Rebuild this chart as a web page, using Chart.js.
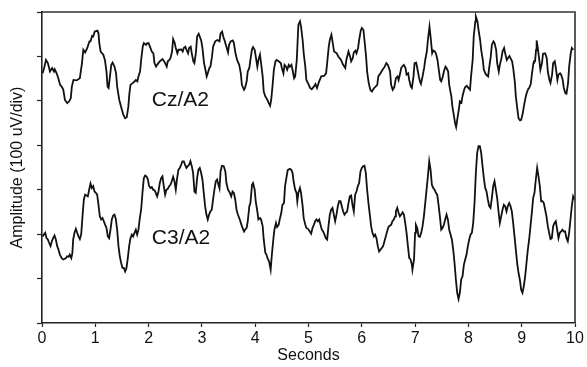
<!DOCTYPE html>
<html>
<head>
<meta charset="utf-8">
<script src="https://cdn.jsdelivr.net/npm/chart.js@4.4.1/dist/chart.umd.min.js"></script>
<style>
  html, body { margin: 0; padding: 0; background: #fff; }
  #wrap { width: 587px; height: 367px; }
</style>
</head>
<body>
<div id="wrap"><canvas id="eegChart" width="587" height="367"></canvas></div>
<script>
// time (s), amplitude (uV on the stacked 0..700 scale, 100 uV per division)
const czTrace = [
  [0.01,562],[0.04,574],[0.075,592],[0.11,585],[0.15,566],[0.19,574],[0.225,566],[0.24,571],[0.275,562],[0.306,551],
  [0.34,536],[0.375,531],[0.40,525],[0.43,502],[0.475,495],[0.51,499],[0.54,506],[0.56,532],[0.59,547],[0.65,546],
  [0.71,551],[0.75,585],[0.775,615],[0.81,609],[0.85,619],[0.89,634],[0.91,634],[0.94,646],[0.96,645],[0.99,656],
  [1.04,658],[1.06,652],[1.075,630],[1.10,611],[1.15,604],[1.18,592],[1.21,566],[1.23,532],[1.25,529],[1.275,555],
  [1.30,581],[1.325,586],[1.36,577],[1.39,562],[1.41,532],[1.45,502],[1.49,484],[1.525,469],[1.56,461],[1.59,463],
  [1.62,487],[1.64,517],[1.66,536],[1.70,540],[1.74,544],[1.76,547],[1.79,544],[1.81,555],[1.84,566],[1.86,592],
  [1.89,622],[1.91,630],[1.95,626],[1.975,630],[2.00,630],[2.025,622],[2.06,611],[2.09,607],[2.11,585],[2.14,577],
  [2.16,581],[2.19,586],[2.21,589],[2.24,592],[2.26,594],[2.29,589],[2.31,585],[2.34,577],[2.36,589],[2.39,592],
  [2.41,596],[2.44,611],[2.46,639],[2.49,630],[2.51,619],[2.54,607],[2.56,615],[2.59,615],[2.61,616],[2.64,611],
  [2.66,619],[2.69,622],[2.71,615],[2.74,607],[2.76,619],[2.79,622],[2.81,607],[2.84,589],[2.86,585],[2.89,611],
  [2.91,645],[2.94,651],[2.96,645],[2.99,634],[3.01,619],[3.04,585],[3.06,574],[3.09,555],[3.11,562],[3.14,574],
  [3.16,577],[3.19,600],[3.21,622],[3.25,634],[3.29,637],[3.33,634],[3.35,652],[3.38,656],[3.40,645],[3.43,634],
  [3.46,622],[3.49,609],[3.51,626],[3.54,634],[3.58,636],[3.60,630],[3.63,607],[3.66,592],[3.70,581],[3.73,562],
  [3.75,536],[3.79,525],[3.81,529],[3.84,544],[3.86,566],[3.89,574],[3.91,592],[3.94,616],[3.96,621],[3.99,615],
  [4.01,600],[4.04,577],[4.06,592],[4.09,604],[4.11,585],[4.14,555],[4.16,521],[4.19,510],[4.23,502],[4.25,496],
  [4.28,489],[4.30,502],[4.33,540],[4.35,570],[4.38,589],[4.40,592],[4.44,589],[4.48,585],[4.50,574],[4.53,562],
  [4.55,581],[4.58,577],[4.60,570],[4.63,581],[4.65,577],[4.68,581],[4.70,570],[4.73,551],[4.75,555],[4.78,592],
  [4.80,645],[4.81,671],[4.84,679],[4.86,667],[4.89,637],[4.91,607],[4.94,577],[4.96,547],[4.99,540],[5.03,529],
  [5.06,526],[5.10,532],[5.13,538],[5.16,529],[5.20,544],[5.24,555],[5.29,556],[5.33,562],[5.35,585],[5.38,622],
  [5.40,637],[5.43,649],[5.45,634],[5.48,611],[5.53,607],[5.56,600],[5.61,592],[5.65,581],[5.69,574],[5.71,592],
  [5.75,611],[5.78,600],[5.80,589],[5.83,596],[5.85,609],[5.88,613],[5.90,607],[5.93,619],[5.95,637],[5.98,658],
  [6.00,664],[6.03,660],[6.05,637],[6.08,600],[6.10,566],[6.13,540],[6.16,525],[6.19,521],[6.23,529],[6.25,531],
  [6.29,536],[6.31,555],[6.35,562],[6.39,570],[6.43,577],[6.46,585],[6.49,581],[6.53,566],[6.55,536],[6.58,525],
  [6.61,531],[6.64,551],[6.67,555],[6.69,547],[6.72,562],[6.74,574],[6.77,579],[6.79,581],[6.82,574],[6.84,559],
  [6.87,562],[6.89,547],[6.92,532],[6.94,529],[6.97,555],[6.99,585],[7.02,586],[7.04,574],[7.07,555],[7.09,544],
  [7.11,538],[7.14,555],[7.17,574],[7.19,592],[7.22,611],[7.24,637],[7.27,667],[7.29,645],[7.32,607],[7.34,613],
  [7.37,611],[7.39,607],[7.42,592],[7.44,574],[7.47,547],[7.49,544],[7.52,555],[7.54,566],[7.57,577],[7.59,574],
  [7.62,566],[7.64,536],[7.68,510],[7.70,487],[7.73,465],[7.75,450],[7.77,441],[7.79,457],[7.82,480],[7.84,499],
  [7.87,496],[7.89,511],[7.92,525],[7.94,531],[7.97,534],[8.00,529],[8.03,525],[8.05,555],[8.08,592],[8.10,645],
  [8.13,679],[8.14,690],[8.17,679],[8.19,660],[8.22,637],[8.24,615],[8.27,592],[8.29,570],[8.33,559],[8.37,555],
  [8.39,574],[8.42,600],[8.44,626],[8.47,634],[8.49,630],[8.52,615],[8.54,585],[8.57,566],[8.59,581],[8.62,596],
  [8.64,611],[8.67,619],[8.69,607],[8.72,592],[8.74,596],[8.77,601],[8.79,596],[8.82,589],[8.84,574],[8.87,544],
  [8.89,510],[8.92,480],[8.94,461],[8.97,456],[8.99,457],[9.02,472],[9.04,487],[9.07,506],[9.09,516],[9.12,526],
  [9.14,529],[9.17,538],[9.19,559],[9.22,585],[9.23,589],[9.25,589],[9.27,615],[9.28,636],[9.30,621],[9.33,592],
  [9.35,570],[9.38,585],[9.40,606],[9.44,607],[9.47,596],[9.49,566],[9.52,547],[9.54,540],[9.57,559],[9.59,585],
  [9.62,589],[9.64,574],[9.67,547],[9.69,559],[9.72,562],[9.74,559],[9.77,547],[9.79,529],[9.82,517],[9.84,516],
  [9.87,540],[9.89,577],[9.92,607],[9.94,619],[9.97,615]
];

const c3Trace = [
  [0.01,195],[0.035,199],[0.06,203],[0.085,191],[0.11,188],[0.135,180],[0.16,173],[0.185,184],[0.21,191],[0.235,197],
  [0.26,188],[0.285,173],[0.31,165],[0.335,154],[0.37,146],[0.40,143],[0.42,144],[0.45,146],[0.47,150],[0.50,149],
  [0.52,154],[0.55,146],[0.57,158],[0.585,188],[0.61,203],[0.635,212],[0.66,203],[0.685,195],[0.71,189],[0.735,199],
  [0.76,240],[0.785,278],[0.81,289],[0.835,287],[0.86,285],[0.885,300],[0.91,314],[0.935,304],[0.96,308],[0.985,296],
  [1.01,293],[1.035,289],[1.06,266],[1.085,240],[1.11,233],[1.135,236],[1.16,229],[1.185,221],[1.21,214],[1.235,195],
  [1.26,191],[1.285,210],[1.31,233],[1.335,242],[1.36,244],[1.385,234],[1.41,210],[1.435,173],[1.46,150],[1.485,135],
  [1.51,124],[1.535,124],[1.56,116],[1.585,124],[1.61,146],[1.635,173],[1.66,191],[1.685,199],[1.71,195],[1.735,203],
  [1.76,210],[1.785,199],[1.81,210],[1.835,236],[1.86,255],[1.885,293],[1.91,326],[1.935,332],[1.96,330],[1.985,324],
  [2.01,308],[2.035,304],[2.06,306],[2.085,300],[2.11,299],[2.135,293],[2.16,285],[2.185,296],[2.21,315],[2.235,326],
  [2.26,330],[2.285,308],[2.31,289],[2.335,300],[2.36,302],[2.385,308],[2.41,311],[2.435,319],[2.46,329],[2.485,319],
  [2.51,300],[2.535,326],[2.56,345],[2.585,349],[2.61,356],[2.635,364],[2.66,364],[2.685,356],[2.71,349],[2.735,353],
  [2.76,356],[2.785,364],[2.81,353],[2.835,338],[2.86,296],[2.885,293],[2.91,326],[2.935,345],[2.96,349],[2.985,338],
  [3.01,323],[3.035,293],[3.06,263],[3.085,244],[3.11,233],[3.135,244],[3.16,251],[3.185,255],[3.21,278],[3.235,300],
  [3.26,319],[3.285,323],[3.31,311],[3.33,303],[3.35,341],[3.375,354],[3.41,353],[3.44,341],[3.46,315],[3.49,300],
  [3.525,293],[3.55,285],[3.575,296],[3.60,293],[3.625,278],[3.65,255],[3.675,244],[3.71,233],[3.75,218],[3.79,206],
  [3.81,210],[3.84,214],[3.86,229],[3.89,263],[3.91,270],[3.94,311],[3.96,315],[3.99,300],[4.01,274],[4.04,251],
  [4.06,233],[4.09,236],[4.11,233],[4.14,218],[4.16,188],[4.19,158],[4.21,154],[4.24,143],[4.26,139],[4.29,120],
  [4.31,150],[4.34,188],[4.36,210],[4.39,225],[4.41,216],[4.44,221],[4.46,233],[4.49,248],[4.51,266],[4.54,270],
  [4.56,308],[4.59,330],[4.61,344],[4.65,347],[4.675,345],[4.70,338],[4.725,315],[4.75,300],[4.775,293],[4.79,274],
  [4.81,293],[4.84,304],[4.86,293],[4.89,263],[4.91,236],[4.94,221],[4.96,214],[4.99,212],[5.025,206],[5.05,201],
  [5.075,214],[5.10,221],[5.125,229],[5.15,233],[5.175,229],[5.20,233],[5.225,221],[5.25,210],[5.275,206],[5.30,199],
  [5.325,191],[5.35,188],[5.375,218],[5.40,244],[5.425,255],[5.45,259],[5.475,244],[5.50,229],[5.525,244],[5.55,263],
  [5.575,274],[5.60,274],[5.625,263],[5.65,251],[5.675,244],[5.70,248],[5.725,251],[5.75,270],[5.775,285],[5.80,287],
  [5.825,266],[5.85,251],[5.875,289],[5.90,296],[5.925,308],[5.95,315],[5.975,341],[6.00,349],[6.025,353],[6.05,354],
  [6.075,338],[6.10,300],[6.125,270],[6.15,244],[6.175,218],[6.20,203],[6.225,195],[6.25,199],[6.275,191],[6.30,173],
  [6.325,161],[6.35,165],[6.375,169],[6.40,173],[6.425,184],[6.45,195],[6.475,206],[6.50,216],[6.525,219],[6.55,221],
  [6.575,229],[6.60,233],[6.625,240],[6.64,251],[6.665,259],[6.69,248],[6.715,240],[6.74,244],[6.765,249],[6.79,244],
  [6.815,225],[6.84,203],[6.865,173],[6.89,146],[6.915,143],[6.94,131],[6.95,120],[6.98,143],[7.00,203],[7.015,221],
  [7.04,214],[7.065,195],[7.09,194],[7.115,203],[7.14,218],[7.165,240],[7.19,270],[7.215,300],[7.24,330],[7.265,364],
  [7.29,345],[7.315,311],[7.34,304],[7.365,300],[7.39,293],[7.415,289],[7.44,266],[7.465,240],[7.49,210],[7.515,214],
  [7.54,221],[7.565,233],[7.59,244],[7.615,233],[7.64,210],[7.665,199],[7.69,188],[7.715,165],[7.74,135],[7.765,98],
  [7.79,68],[7.815,54],[7.84,68],[7.865,98],[7.89,105],[7.915,131],[7.94,143],[7.965,154],[7.99,173],[8.015,188],
  [8.04,199],[8.065,203],[8.09,225],[8.115,270],[8.14,338],[8.165,383],[8.19,398],[8.215,398],[8.24,383],[8.265,353],
  [8.29,326],[8.315,304],[8.34,296],[8.365,278],[8.39,263],[8.415,259],[8.44,281],[8.465,308],[8.49,319],[8.515,300],
  [8.54,281],[8.565,251],[8.59,225],[8.615,240],[8.64,255],[8.665,266],[8.69,263],[8.715,251],[8.74,263],[8.765,270],
  [8.79,263],[8.815,251],[8.84,225],[8.865,195],[8.89,165],[8.915,135],[8.94,113],[8.965,98],[8.99,75],[9.015,68],
  [9.04,83],[9.065,105],[9.09,135],[9.115,165],[9.14,188],[9.165,218],[9.19,248],[9.215,281],[9.24,293],[9.265,323],
  [9.29,349],[9.315,330],[9.34,308],[9.365,274],[9.39,274],[9.415,270],[9.44,255],[9.465,240],[9.49,218],[9.515,203],
  [9.54,189],[9.565,191],[9.59,218],[9.615,225],[9.64,229],[9.665,210],[9.69,191],[9.715,203],[9.74,206],[9.765,210],
  [9.79,206],[9.815,206],[9.84,191],[9.865,184],[9.89,203],[9.915,233],[9.94,263],[9.965,285],[9.99,278]
];

const channelNames = ["Cz/A2", "C3/A2"];
const xTicks = [0, 1, 2, 3, 4, 5, 6, 7, 8, 9, 10];

const FONT = "'Liberation Sans', Arial, Helvetica, sans-serif";

// channel name labels inside the plot, anchored in data units
const channelLabels = {
  id: "channelLabels",
  afterDatasetsDraw(chart) {
    const { ctx, scales: { x, y } } = chart;
    const anchors = [[2.06, 501], [2.06, 190]];
    ctx.save();
    ctx.fillStyle = "#111";
    ctx.font = "21px " + FONT;
    ctx.textAlign = "left";
    ctx.textBaseline = "middle";
    channelNames.forEach((name, i) => {
      ctx.fillText(name, x.getPixelForValue(anchors[i][0]), y.getPixelForValue(anchors[i][1]));
    });
    ctx.restore();
  }
};

// top and right edges of the box
const frame = {
  id: "frame",
  afterDraw(chart) {
    const { ctx, chartArea: a } = chart;
    ctx.save();
    ctx.strokeStyle = "#333";
    ctx.lineWidth = 1.6;
    ctx.beginPath();
    ctx.moveTo(a.left, a.top);
    ctx.lineTo(a.right, a.top);
    ctx.lineTo(a.right, a.bottom);
    ctx.stroke();
    ctx.restore();
  }
};

const toPoints = trace => trace.map(p => ({ x: p[0], y: p[1] }));

new Chart(document.getElementById("eegChart"), {
  type: "line",
  data: {
    datasets: [
      { label: channelNames[0], data: toPoints(czTrace) },
      { label: channelNames[1], data: toPoints(c3Trace) }
    ].map(ds => Object.assign(ds, {
      borderColor: "#111",
      borderWidth: 1.8,
      pointRadius: 0,
      tension: 0,
      fill: false
    }))
  },
  options: {
    responsive: false,
    animation: false,
    devicePixelRatio: 1,
    layout: { padding: { top: 12, right: 12, left: 0, bottom: 0 } },
    plugins: {
      legend: { display: false },
      tooltip: { enabled: false }
    },
    scales: {
      x: {
        type: "linear",
        min: 0,
        max: 10,
        afterFit: s => { s.height = 44; },
        afterBuildTicks: s => { s.ticks = xTicks.map(v => ({ value: v })); },
        ticks: { color: "#111", font: { family: FONT, size: 16 }, padding: 2, maxRotation: 0 },
        grid: { drawOnChartArea: false, drawTicks: true, tickLength: 4, color: "#222", tickWidth: 1.2 },
        border: { display: true, color: "#222", width: 1.6 },
        title: {
          display: true,
          text: "Seconds",
          color: "#111",
          font: { family: FONT, size: 16 },
          padding: { top: 0, bottom: 2 }
        }
      },
      y: {
        type: "linear",
        min: 0,
        max: 700,
        afterFit: s => { s.width = 42; },
        ticks: { stepSize: 100, callback: () => "", padding: 0 },
        grid: { drawOnChartArea: false, drawTicks: true, tickLength: 5, color: "#222", tickWidth: 1.2 },
        border: { display: true, color: "#222", width: 1.6 },
        title: {
          display: true,
          text: "Amplitude (100 uV/div)",
          color: "#111",
          font: { family: FONT, size: 16 },
          padding: { top: 8, bottom: 0 }
        }
      }
    }
  },
  plugins: [channelLabels, frame]
});
</script>
</body>
</html>
